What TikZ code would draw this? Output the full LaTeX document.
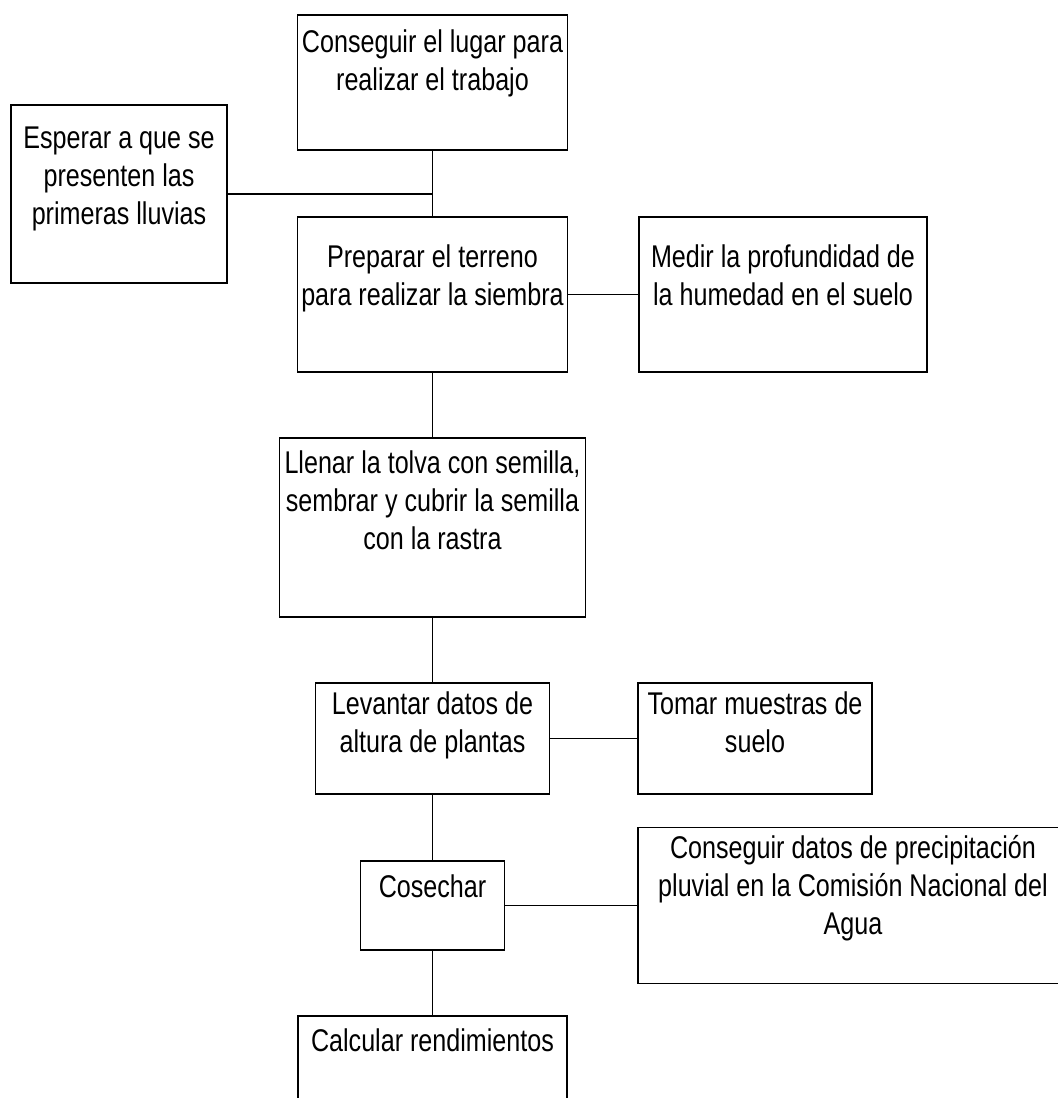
\documentclass[tikz,border=0pt]{standalone}
\usepackage{fontspec}
\setmainfont[FakeStretch=0.8]{Liberation Sans}
\usetikzlibrary{positioning}

\tikzset{
	caja/.style = {draw, line width = 0.8pt, inner sep = 0pt},
	texto/.style = {align = center, inner sep = 0pt, font = \fontsize{15.7pt}{19pt}\selectfont},
	linea/.style = {line width = 0.8pt}
}

\begin{document}
\begin{tikzpicture}[x = 0.5pt, y = -0.5pt]

	% Frame
	
	\useasboundingbox (0, 0) rectangle (1058, 1098);
	\clip (0, 0) rectangle (1058, 1098);
	
	% Boxes
	
	\node [caja, minimum width = 135pt, minimum height = 67.5pt] (lugar) at (432.5, 82.5) {};
	\node [caja, minimum width = 108pt, minimum height = 89pt] (lluvias) at (119, 194) {};
	\node [caja, minimum width = 135pt, minimum height = 77.5pt] (prep) at (432.5, 294.5) {};
	\node [caja, minimum width = 144pt, minimum height = 77.5pt] (medir) at (783, 294.5) {};
	\node [caja, minimum width = 153pt, minimum height = 89.5pt] (tolva) at (432.5, 527.5) {};
	\node [caja, minimum width = 117pt, minimum height = 55.5pt] (altura) at (432.5, 738.5) {};
	\node [caja, minimum width = 117pt, minimum height = 55.5pt] (suelo) at (755, 738.5) {};
	\node [caja, minimum width = 72pt, minimum height = 44.5pt] (cosechar) at (432.5, 905.5) {};
	\node [caja, minimum width = 215pt, minimum height = 78pt] (agua) at (853, 905.5) {};
	\node [caja, minimum width = 134.5pt, minimum height = 60pt] (rend) at (432.5, 1076) {};
	
	% Texts
	
	\node [texto, below = 7.5pt] (lugar-t) at (lugar.north) {Conseguir el lugar para\\realizar el trabajo};
	\node [texto, below = 11pt] (lluvias-t) at (lluvias.north) {Esperar a que se\\presenten las\\primeras lluvias};
	\node [texto, below = 14pt] (prep-t) at (prep.north) {Preparar el terreno\\para realizar la siembra};
	\node [texto, below = 14pt] (medir-t) at (medir.north) {Medir la profundidad de\\la humedad en el suelo};
	\node [texto, below = 6.5pt] (tolva-t) at (tolva.north) {Llenar la tolva con semilla,\\sembrar y cubrir la semilla\\con la rastra};
	\node [texto, below = 4.5pt] (altura-t) at (altura.north) {Levantar datos de\\altura de plantas};
	\node [texto, below = 4.5pt] (suelo-t) at (suelo.north) {Tomar muestras de\\suelo};
	\node [texto, below = 7pt] (cosechar-t) at (cosechar.north) {Cosechar};
	\node [texto, below = 4pt] (agua-t) at (agua.north) {Conseguir datos de precipitación\\pluvial en la Comisión Nacional del\\Agua};
	\node [texto, below = 6.5pt] (rend-t) at (rend.north) {Calcular rendimientos};
	
	% Lines
	
	\draw [linea] (lugar.south) -- (prep.north);
	\draw [linea] (lluvias.east) -- (lluvias.east -| lugar.south);
	\draw [linea] (prep.east) -- (medir.west);
	\draw [linea] (prep.south) -- (tolva.north);
	\draw [linea] (tolva.south) -- (altura.north);
	\draw [linea] (altura.east) -- (suelo.west);
	\draw [linea] (altura.south) -- (cosechar.north);
	\draw [linea] (cosechar.east) -- (agua.west);
	\draw [linea] (cosechar.south) -- (rend.north);

\end{tikzpicture}
\end{document}
